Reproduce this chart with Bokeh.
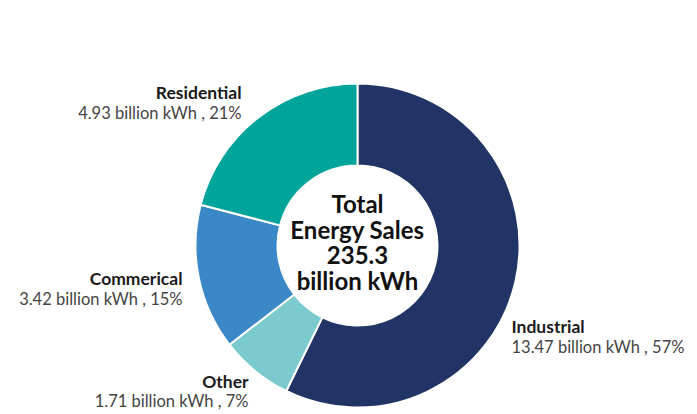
import math
from bokeh.plotting import figure
from bokeh.models import Range1d, ColumnDataSource
from bokeh.core.properties import value
from bokeh.embed import file_html
from bokeh.resources import INLINE

# ---- data ----
categories = ["Industrial", "Other", "Commerical", "Residential"]
sales_billion_kwh = [13.47, 1.71, 3.42, 4.93]
percent_labels = ["57%", "7%", "15%", "21%"]
colors = ["#223465", "#7bcacd", "#3a88c8", "#00a49a"]
center_lines = ["Total", "Energy Sales", "235.3", "billion kWh"]

# ---- layout (screen pixels) ----
W, H = 697, 414
def sy(y):  # screen y -> data y
    return H - y

cx, cy = 357, sy(245)
r_out, r_in = 162, 80

p = figure(width=W, height=H, output_backend="svg", toolbar_location=None,
           x_range=Range1d(0, W), y_range=Range1d(0, H),
           min_border=0, outline_line_color=None)
p.axis.visible = False
p.grid.visible = False
p.background_fill_color = "white"
p.border_fill_color = "white"

total = sum(sales_billion_kwh)
starts, ends = [], []
acc = 0.0
for v in sales_billion_kwh:
    starts.append(math.pi / 2 - 2 * math.pi * acc / total)
    acc += v
    ends.append(math.pi / 2 - 2 * math.pi * acc / total)

src = ColumnDataSource(dict(start=starts, end=ends, color=colors))
p.annular_wedge(x=cx, y=cy, inner_radius=r_in, outer_radius=r_out,
                start_angle="start", end_angle="end", direction="clock",
                fill_color="color", line_color="white", line_width=2,
                source=src)

FONT = "Lato"
# label anchors: (x, title_y, value_y, align)
anchors = [
    (511, 326, 346, "left"),
    (248, 381, 400, "right"),
    (182, 278, 298, "right"),
    (241, 92, 112, "right"),
]
for cat, val, pct, (ax, ty, vy, al) in zip(categories, sales_billion_kwh, percent_labels, anchors):
    p.text(x=[ax], y=[sy(ty)], text=[cat], text_font=value(FONT),
           text_font_style="bold", text_font_size="17.5px", text_color="#1a1a1a",
           text_align=al, text_baseline="middle")
    p.text(x=[ax], y=[sy(vy)], text=[f"{val:.2f} billion kWh , {pct}"],
           text_font=value(FONT), text_font_size="16.5px", text_color="#444444",
           text_align=al, text_baseline="middle")

for i, line in enumerate(center_lines):
    p.text(x=[cx], y=[sy(203 + 25.7 * i)], text=[line], text_font=value(FONT),
           text_font_style="bold", text_font_size="24px", text_color="#111111",
           text_align="center", text_baseline="middle")

open("out.html", "w").write(file_html(p, INLINE))
